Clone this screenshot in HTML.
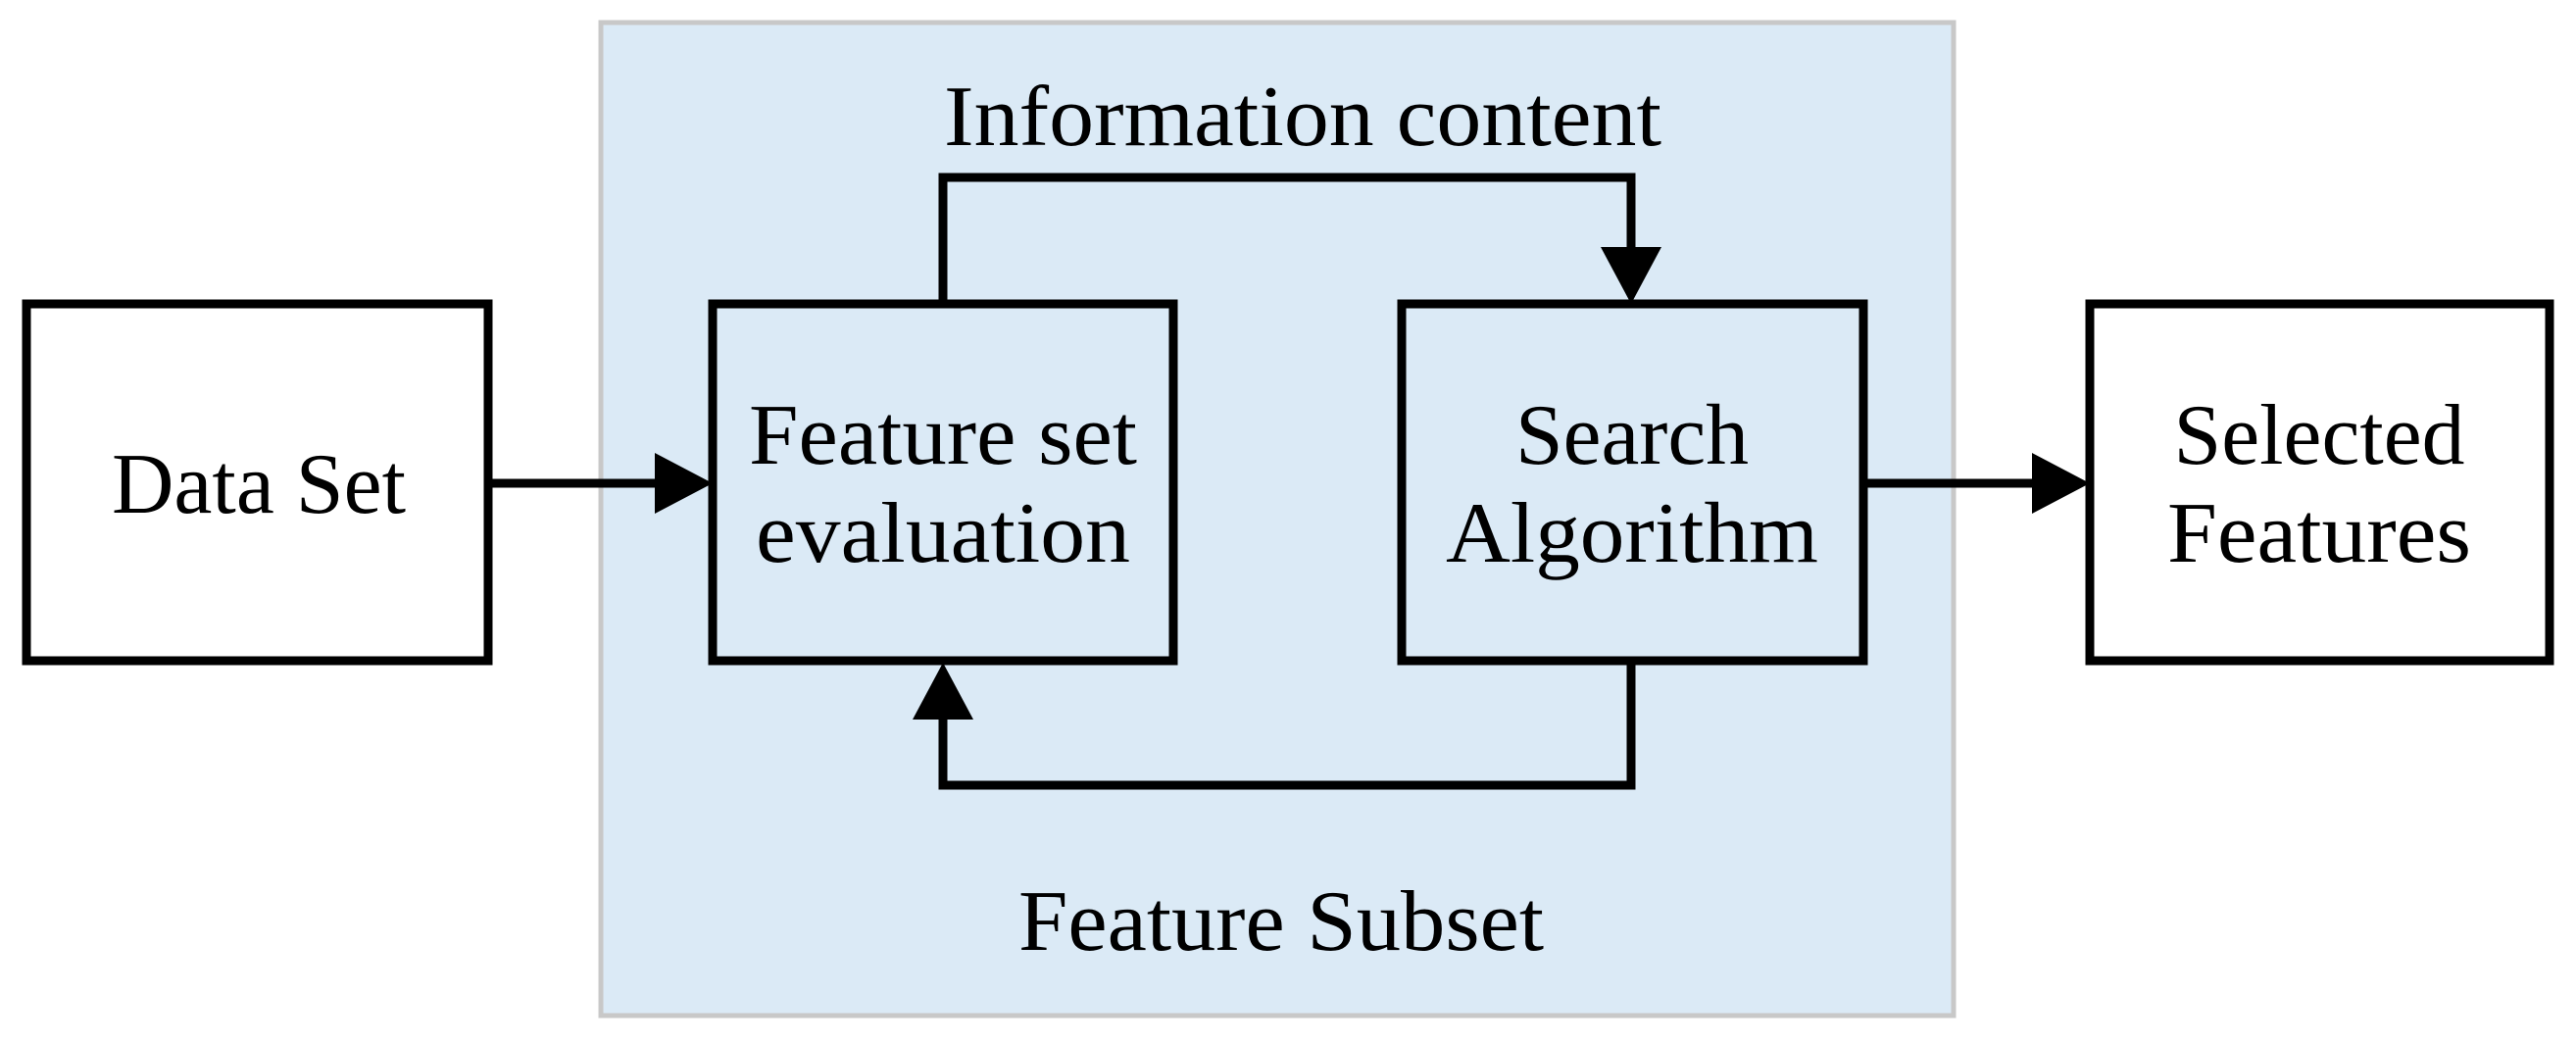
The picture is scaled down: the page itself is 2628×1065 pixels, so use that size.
<!DOCTYPE html>
<html><head><meta charset="utf-8"><style>
html,body{margin:0;padding:0;background:#fff;}
svg{display:block;}
text{font-family:"Liberation Serif",serif;font-size:88px;fill:#000;}
</style></head><body>
<svg width="2628" height="1065" viewBox="0 0 2628 1065">
<rect x="613" y="23" width="1380" height="1013" fill="#dbeaf6" stroke="#c8c8c8" stroke-width="5"/>
<g fill="#fff" stroke="#000" stroke-width="9">
<rect x="27" y="310" width="471" height="364"/>
<rect x="2132" y="310" width="469" height="364"/>
</g>
<g fill="none" stroke="#000" stroke-width="9">
<rect x="727" y="310" width="470" height="364"/>
<rect x="1430" y="310" width="471" height="364"/>
<line x1="498" y1="493" x2="680" y2="493"/>
<line x1="1901" y1="493" x2="2085" y2="493"/>
<polyline points="962,310 962,181 1664,181 1664,260"/>
<polyline points="1664,674 1664,801 962,801 962,725"/>
</g>
<g fill="#000">
<polygon points="668,462 727,493 668,524"/>
<polygon points="2073,462 2132,493 2073,524"/>
<polygon points="1633,252 1695,252 1664,310"/>
<polygon points="931,734 993,734 962,676"/>
</g>
<text x="1329" y="148" text-anchor="middle" textLength="732" lengthAdjust="spacingAndGlyphs">Information content</text>
<text x="264" y="523" text-anchor="middle" textLength="300" lengthAdjust="spacingAndGlyphs">Data Set</text>
<text x="962" y="473" text-anchor="middle" textLength="396" lengthAdjust="spacingAndGlyphs">Feature set</text>
<text x="962" y="573" text-anchor="middle" textLength="382" lengthAdjust="spacingAndGlyphs">evaluation</text>
<text x="1665" y="473" text-anchor="middle" textLength="238" lengthAdjust="spacingAndGlyphs">Search</text>
<text x="1665" y="573" text-anchor="middle" textLength="380" lengthAdjust="spacingAndGlyphs">Algorithm</text>
<text x="2366" y="473" text-anchor="middle" textLength="297" lengthAdjust="spacingAndGlyphs">Selected</text>
<text x="2366" y="573" text-anchor="middle" textLength="310" lengthAdjust="spacingAndGlyphs">Features</text>
<text x="1307" y="969" text-anchor="middle" textLength="536" lengthAdjust="spacingAndGlyphs">Feature Subset</text>
</svg>
</body></html>
